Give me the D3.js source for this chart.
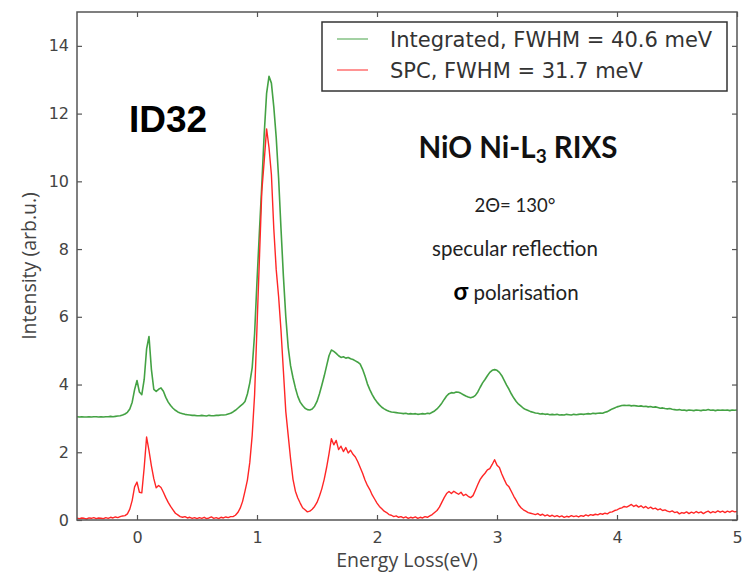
<!DOCTYPE html>
<html>
<head>
<meta charset="utf-8">
<script src="https://cdn.jsdelivr.net/npm/d3@7"></script>
<style>
  html, body { margin: 0; padding: 0; background: #fff; }
  svg { display: block; }
</style>
</head>
<body>
<svg id="chart" width="744" height="573"></svg>
<script>
// Energy-loss grid of the RIXS spectra (eV), 20 meV sampling
const energyStart = -0.5;
const energyStep = 0.02;

// Integrated detector image, offset by +3 for clarity
const integrated = [
  3.05, 3.04, 3.05, 3.04, 3.04, 3.05, 3.04, 3.05, 3.05, 3.04,
  3.05, 3.04, 3.05, 3.05, 3.06, 3.05, 3.06, 3.07, 3.08, 3.10,
  3.13, 3.18, 3.28, 3.48, 3.85, 4.12, 3.78, 3.70, 4.15, 5.05,
  5.42, 4.45, 3.86, 3.80, 3.86, 3.90, 3.80, 3.62, 3.48, 3.38,
  3.30, 3.24, 3.19, 3.16, 3.14, 3.12, 3.11, 3.10, 3.09, 3.09,
  3.08, 3.08, 3.09, 3.08, 3.07, 3.09, 3.08, 3.08, 3.09, 3.09,
  3.10, 3.10, 3.11, 3.13, 3.15, 3.19, 3.24, 3.30, 3.36, 3.42,
  3.50, 3.72, 4.05, 4.50, 5.50, 7.05, 8.50, 9.90, 11.40, 12.60,
  13.10, 12.90, 12.20, 11.30, 10.10, 8.60, 7.20, 6.00, 5.10, 4.55,
  4.20, 3.90, 3.65, 3.48, 3.38, 3.30, 3.26, 3.25, 3.28, 3.36,
  3.50, 3.72, 3.98, 4.25, 4.55, 4.85, 5.02, 4.98, 4.92, 4.85,
  4.80, 4.82, 4.78, 4.80, 4.76, 4.74, 4.70, 4.66, 4.60, 4.45,
  4.25, 4.02, 3.85, 3.70, 3.58, 3.48, 3.40, 3.33, 3.28, 3.24,
  3.21, 3.19, 3.18, 3.17, 3.16, 3.15, 3.14, 3.15, 3.13, 3.14,
  3.13, 3.14, 3.12, 3.13, 3.14, 3.13, 3.15, 3.14, 3.18, 3.22,
  3.28, 3.36, 3.45, 3.56, 3.66, 3.73, 3.76, 3.75, 3.78, 3.77,
  3.74, 3.70, 3.66, 3.63, 3.61, 3.63, 3.68, 3.78, 3.92, 4.05,
  4.15, 4.26, 4.36, 4.42, 4.44, 4.42, 4.36, 4.26, 4.12, 3.98,
  3.86, 3.72, 3.60, 3.50, 3.42, 3.36, 3.30, 3.26, 3.23, 3.20,
  3.18, 3.16, 3.15, 3.13, 3.14, 3.12, 3.13, 3.11, 3.12, 3.11,
  3.12, 3.10, 3.11, 3.10, 3.12, 3.11, 3.10, 3.12, 3.11, 3.12,
  3.13, 3.12, 3.13, 3.14, 3.13, 3.15, 3.14, 3.15, 3.16, 3.15,
  3.18, 3.20, 3.24, 3.28, 3.31, 3.34, 3.36, 3.38, 3.39, 3.38,
  3.39, 3.37, 3.38, 3.37, 3.36, 3.37, 3.35, 3.36, 3.34, 3.35,
  3.33, 3.34, 3.32, 3.30, 3.31, 3.29, 3.28, 3.29, 3.27, 3.26,
  3.25, 3.26, 3.24, 3.25, 3.23, 3.25, 3.24, 3.23, 3.25, 3.24,
  3.23, 3.25, 3.24, 3.26, 3.24, 3.25, 3.23, 3.25, 3.24, 3.25,
  3.24, 3.25, 3.23, 3.25, 3.24, 3.25
];

// Single-photon-counting (SPC) spectrum
const spc = [
  0.05, 0.04, 0.06, 0.05, 0.03, 0.06, 0.05, 0.07, 0.04, 0.06,
  0.05, 0.04, 0.07, 0.05, 0.08, 0.06, 0.09, 0.07, 0.10, 0.12,
  0.13, 0.18, 0.32, 0.58, 0.98, 1.12, 0.82, 0.80, 1.55, 2.45,
  2.05, 1.60, 1.22, 0.95, 1.02, 0.96, 0.82, 0.66, 0.52, 0.40,
  0.30, 0.20, 0.15, 0.10, 0.08, 0.10, 0.06, 0.08, 0.05, 0.07,
  0.04, 0.07, 0.05, 0.08, 0.04, 0.06, 0.09, 0.05, 0.07, 0.04,
  0.08, 0.06, 0.09, 0.07, 0.10, 0.10, 0.14, 0.22, 0.35, 0.55,
  0.85, 1.18, 1.70, 2.50, 3.70, 5.70, 7.70, 9.70, 10.60, 11.55,
  11.00, 10.20, 8.60, 7.40, 6.60, 5.60, 4.40, 3.20, 2.50, 1.80,
  1.20, 0.85, 0.65, 0.50, 0.36, 0.30, 0.24, 0.26, 0.32, 0.40,
  0.52, 0.70, 0.92, 1.20, 1.55, 1.95, 2.40, 2.22, 2.35, 2.08,
  2.18, 2.02, 2.14, 1.98, 2.06, 1.94, 1.86, 1.72, 1.55, 1.38,
  1.18, 1.02, 0.90, 0.74, 0.62, 0.50, 0.40, 0.33, 0.26, 0.22,
  0.16, 0.14, 0.10, 0.12, 0.08, 0.10, 0.06, 0.09, 0.05, 0.08,
  0.06, 0.09, 0.05, 0.08, 0.06, 0.10, 0.08, 0.12, 0.16, 0.22,
  0.28, 0.38, 0.52, 0.66, 0.78, 0.84, 0.78, 0.85, 0.80, 0.76,
  0.82, 0.72, 0.76, 0.70, 0.66, 0.72, 0.88, 1.05, 1.20, 1.30,
  1.38, 1.48, 1.52, 1.64, 1.78, 1.62, 1.55, 1.36, 1.20, 1.05,
  0.98, 0.84, 0.70, 0.58, 0.45, 0.36, 0.30, 0.26, 0.22, 0.20,
  0.18, 0.16, 0.19, 0.14, 0.17, 0.12, 0.15, 0.11, 0.14, 0.10,
  0.13, 0.09, 0.12, 0.08, 0.11, 0.09, 0.13, 0.10, 0.12, 0.09,
  0.13, 0.11, 0.15, 0.12, 0.16, 0.14, 0.17, 0.15, 0.19, 0.17,
  0.20, 0.18, 0.23, 0.24, 0.28, 0.30, 0.34, 0.36, 0.40, 0.38,
  0.42, 0.46, 0.40, 0.44, 0.38, 0.42, 0.36, 0.40, 0.34, 0.38,
  0.33, 0.35, 0.30, 0.33, 0.28, 0.30, 0.26, 0.24, 0.27, 0.22,
  0.24, 0.18, 0.22, 0.20, 0.24, 0.19, 0.23, 0.20, 0.25, 0.21,
  0.24, 0.19, 0.23, 0.26, 0.21, 0.25, 0.22, 0.27, 0.23, 0.26,
  0.22, 0.26, 0.23, 0.27, 0.24, 0.25
];

const seriesNames = ["Integrated, FWHM = 40.6 meV", "SPC, FWHM = 31.7 meV"];
const seriesColors = ["#44a244", "#ff2626"];
const xTicks = [0, 1, 2, 3, 4, 5];
const yTicks = [0, 2, 4, 6, 8, 10, 12, 14];

const svg = d3.select("#chart");
const margin = { left: 77, right: 7, top: 12, bottom: 53 };
const W = 744, H = 573;
const x = d3.scaleLinear().domain([-0.5, 5]).range([margin.left, W - margin.right]);
const y = d3.scaleLinear().domain([0, 15]).range([H - margin.bottom, margin.top]);

const energy = integrated.map((_, i) => +(energyStart + i * energyStep).toFixed(2));

const tickFont = "'DejaVu Sans', sans-serif";
const axisColor = "#555";

// clip to the plotting area
svg.append("defs").append("clipPath").attr("id", "plotArea")
  .append("rect")
  .attr("x", x(-0.5)).attr("y", y(15))
  .attr("width", x(5) - x(-0.5)).attr("height", y(0) - y(15));

// spectra
const line = d3.line().x(d => x(d[0])).y(d => y(d[1]));
const curves = svg.append("g").attr("clip-path", "url(#plotArea)");
[integrated, spc].forEach((vals, k) => {
  curves.append("path")
    .datum(vals.map((v, i) => [energy[i], v]))
    .attr("fill", "none")
    .attr("stroke", seriesColors[k])
    .attr("stroke-width", k === 0 ? 1.6 : 1.4)
    .attr("stroke-linejoin", "round")
    .attr("d", line);
});

// axes with inward ticks on all four sides
function styleAxis(g) {
  g.select(".domain").remove();
  g.selectAll(".tick line").attr("stroke", axisColor).attr("stroke-width", 1.2);
  g.selectAll(".tick text").attr("fill", "#444")
    .style("font-family", tickFont).style("font-size", "16px");
}
svg.append("g").attr("transform", `translate(0,${y(0)})`)
  .call(d3.axisBottom(x).tickValues(xTicks).tickSize(-5).tickPadding(12).tickFormat(d3.format("d")))
  .call(styleAxis);
svg.append("g").attr("transform", `translate(0,${y(15)})`)
  .call(d3.axisTop(x).tickValues(xTicks).tickSize(-5).tickFormat(""))
  .call(styleAxis);
svg.append("g").attr("transform", `translate(${x(-0.5)},0)`)
  .call(d3.axisLeft(y).tickValues(yTicks).tickSize(-5).tickPadding(8).tickFormat(d3.format("d")))
  .call(styleAxis);
svg.append("g").attr("transform", `translate(${x(5)},0)`)
  .call(d3.axisRight(y).tickValues(yTicks).tickSize(-5).tickFormat(""))
  .call(styleAxis);

// frame
svg.append("rect")
  .attr("x", x(-0.5)).attr("y", y(15))
  .attr("width", x(5) - x(-0.5)).attr("height", y(0) - y(15))
  .attr("fill", "none").attr("stroke", axisColor).attr("stroke-width", 1.5);

// axis titles
const labelFont = "'Open Sans', sans-serif";
svg.append("text")
  .attr("x", (x(-0.5) + x(5)) / 2).attr("y", 567)
  .attr("text-anchor", "middle")
  .style("font-family", labelFont).style("font-size", "19.5px").attr("fill", "#444")
  .text("Energy Loss(eV)");
svg.append("text")
  .attr("transform", `translate(36,${(y(0) + y(15)) / 2}) rotate(-90)`)
  .attr("text-anchor", "middle")
  .style("font-family", labelFont).style("font-size", "19.5px").attr("fill", "#444")
  .text("Intensity (arb.u.)");

// legend
const legend = svg.append("g");
legend.append("rect")
  .attr("x", 322).attr("y", 22).attr("width", 405).attr("height", 69)
  .attr("fill", "#fff").attr("stroke", "#333").attr("stroke-width", 1.5);
seriesNames.forEach((name, k) => {
  const ly = 39 + k * 31;
  legend.append("line")
    .attr("x1", 337).attr("x2", 368).attr("y1", ly).attr("y2", ly)
    .attr("stroke", seriesColors[k]).attr("stroke-width", 1.5).attr("opacity", 0.65);
  legend.append("text")
    .attr("x", 390).attr("y", ly + 8)
    .style("font-family", tickFont).style("font-size", "21px").attr("fill", "#333")
    .text(name);
});

// beamline tag
svg.append("text")
  .attr("x", 129).attr("y", 132)
  .style("font-family", "'Liberation Sans', Arial, sans-serif")
  .style("font-size", "37px").style("font-weight", "bold").attr("fill", "#000")
  .text("ID32");

// measurement notes
const noteFont = "Lato, 'Open Sans', sans-serif";
const title = svg.append("text")
  .attr("x", 518).attr("y", 158).attr("text-anchor", "middle")
  .style("font-family", noteFont).style("font-size", "29.5px").style("font-weight", "bold")
  .attr("fill", "#111");
title.append("tspan").text("NiO Ni-L");
title.append("tspan").attr("dy", 5).style("font-size", "19px").text("3");
title.append("tspan").attr("dy", -5).text(" RIXS");

svg.append("text")
  .attr("x", 515).attr("y", 212).attr("text-anchor", "middle")
  .style("font-family", noteFont).style("font-size", "18.5px").attr("fill", "#222")
  .text("2Θ= 130°");
svg.append("text")
  .attr("x", 515).attr("y", 256).attr("text-anchor", "middle")
  .style("font-family", noteFont).style("font-size", "20.5px").attr("fill", "#222")
  .text("specular reflection");
const pol = svg.append("text")
  .attr("x", 516).attr("y", 300).attr("text-anchor", "middle")
  .style("font-family", noteFont).style("font-size", "20.5px").attr("fill", "#222");
pol.append("tspan").style("font-weight", "bold").style("font-size", "24px").attr("fill", "#000").text("σ");
pol.append("tspan").text(" polarisation");
</script>
</body>
</html>
